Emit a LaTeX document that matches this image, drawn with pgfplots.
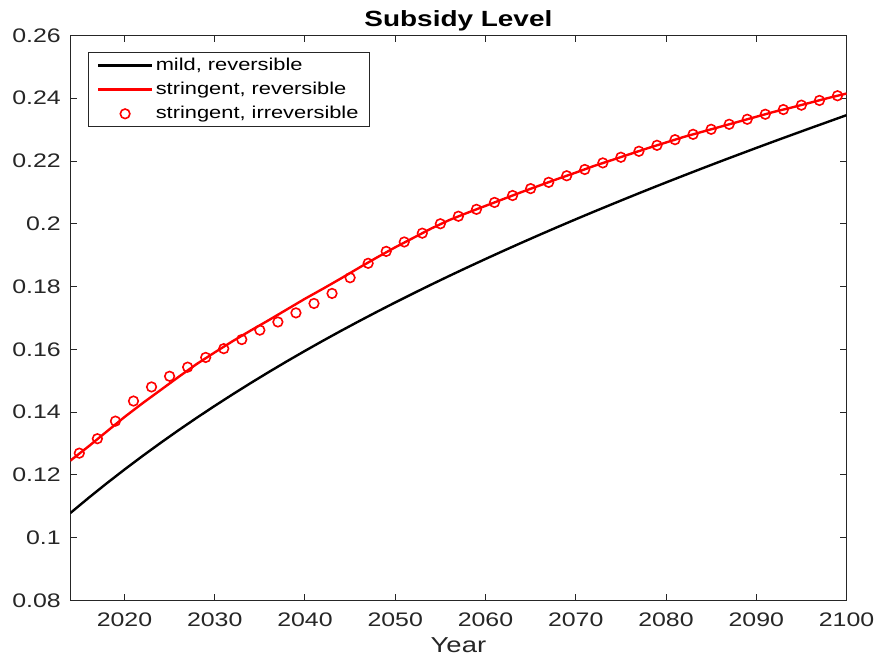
\documentclass[border=0pt]{standalone}
\usepackage{fontspec}
\setmainfont{Liberation Sans}[FakeStretch=1.27]
\usepackage{pgfplots}
\pgfplotsset{compat=1.18}
\definecolor{axgray}{HTML}{262626}
\pgfplotstableread{
year val
2014 0.10780
2016 0.11258
2018 0.11720
2020 0.12166
2022 0.12598
2024 0.13016
2026 0.13422
2028 0.13815
2030 0.14196
2032 0.14566
2034 0.14926
2036 0.15276
2038 0.15617
2040 0.15949
2042 0.16273
2044 0.16589
2046 0.16897
2048 0.17198
2050 0.17493
2052 0.17781
2054 0.18063
2056 0.18340
2058 0.18611
2060 0.18877
2062 0.19139
2064 0.19396
2066 0.19649
2068 0.19898
2070 0.20143
2072 0.20384
2074 0.20621
2076 0.20856
2078 0.21088
2080 0.21316
2082 0.21541
2084 0.21764
2086 0.21984
2088 0.22201
2090 0.22416
2092 0.22629
2094 0.22839
2096 0.23048
2098 0.23254
2100 0.23461
}\mild
\pgfplotstableread{
year val
2014 0.1245
2016 0.1290
2018 0.1337
2020 0.1384
2022 0.1428
2024 0.1470
2026 0.1512
2028 0.1553
2030 0.1590
2032 0.1626
2034 0.1660
2036 0.1693
2038 0.1727
2040 0.1761
2042 0.1793
2044 0.1826
2046 0.1860
2048 0.1893
2050 0.1925
2052 0.1955
2054 0.1985
2056 0.2012
2058 0.2035
2060 0.2057
2062 0.2079
2064 0.2101
2066 0.2122
2068 0.2143
2070 0.2163
2072 0.2184
2074 0.2203
2076 0.2222
2078 0.2241
2080 0.2259
2082 0.2277
2084 0.2293
2086 0.2309
2088 0.2325
2090 0.2341
2092 0.2357
2094 0.2371
2096 0.2386
2098 0.2401
2100 0.2415
}\strrev
\pgfplotstableread{
year val
2015 0.1269
2017 0.1315
2019 0.1371
2021 0.1435
2023 0.1480
2025 0.1514
2027 0.1543
2029 0.1574
2031 0.1602
2033 0.1631
2035 0.1661
2037 0.1687
2039 0.1716
2041 0.1746
2043 0.1778
2045 0.1828
2047 0.1874
2049 0.1912
2051 0.1942
2053 0.1970
2055 0.2000
2057 0.2024
2059 0.2046
2061 0.2068
2063 0.2090
2065 0.2112
2067 0.2132
2069 0.2153
2071 0.2173
2073 0.2194
2075 0.2212
2077 0.2231
2079 0.2250
2081 0.2268
2083 0.2285
2085 0.2301
2087 0.2317
2089 0.2333
2091 0.2349
2093 0.2364
2095 0.2378
2097 0.2393
2099 0.2408
}\strirr
\begin{document}
\begin{tikzpicture}
\begin{axis}[
  at={(0,0)}, anchor=south west,
  scale only axis, width=388.1pt, height=282.4pt,
  xmin=2014, xmax=2100, ymin=0.08, ymax=0.26,
  xtick={2020,2030,2040,2050,2060,2070,2080,2090,2100},
  ytick={0.08,0.1,0.12,0.14,0.16,0.18,0.2,0.22,0.24,0.26},
  scaled y ticks=false, scaled x ticks=false,
  tick align=inside, major tick length=3.2pt,
  axis line style={axgray, line width=0.5pt},
  every tick/.style={axgray, line width=0.5pt},
  tick label style={font=\fontsize{9.8}{11}\selectfont, text=axgray},
  /pgf/number format/assume math mode=true,
  /pgf/number format/1000 sep={},
  yticklabel style={/pgf/number format/fixed, /pgf/number format/precision=2, anchor=east, inner sep=0pt, xshift=-4.6pt},
  xticklabel style={anchor=base, inner sep=0pt, yshift=-13.2pt},
  every axis title shift=0pt,
  title={Subsidy Level},
  title style={font=\fontsize{11}{13}\selectfont\bfseries, at={(0.5,1)}, anchor=base, yshift=4.4pt, inner sep=0pt},
  xlabel={Year},
  xlabel style={font=\fontsize{10.8}{12}\selectfont, text=axgray, at={(axis description cs:0.5,0)}, anchor=base, yshift=-26.3pt, inner sep=0pt},
  legend cell align=left,
  legend image code/.code={\draw[mark repeat=2, mark phase=2, #1] plot coordinates {(0pt,0pt) (13.5pt,0pt) (27pt,0pt)};},
  legend style={at={(0,1)}, anchor=north west, xshift=9pt, yshift=-8.4pt,
    draw=axgray, line width=0.4pt, fill=white,
    font=\fontsize{8.6}{10}\selectfont,
    inner xsep=4.1pt, inner ysep=0.3pt, row sep=0pt,
    nodes={inner xsep=1.25pt, inner ysep=1.9pt, text height=6.5pt, text depth=1.8pt}},
]
\addplot[black, line width=1.2pt] table[x=year, y=val] {\mild};
\addlegendentry{mild, reversible}
\addplot[red, line width=1.2pt] table[x=year, y=val] {\strrev};
\addlegendentry{stringent, reversible}
\addplot[red, only marks, mark=o, mark size=2.4pt, mark options={line width=0.8pt}] table[x=year, y=val] {\strirr};
\addlegendentry{stringent, irreversible}
\end{axis}
\pgfresetboundingbox
\path[use as bounding box] (-35.15pt,-28.85pt) rectangle (402.85pt,300.15pt);
\end{tikzpicture}
\end{document}
